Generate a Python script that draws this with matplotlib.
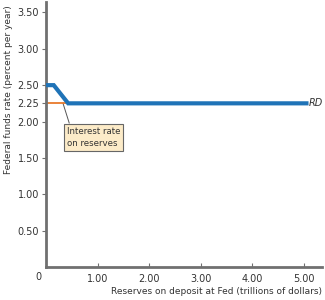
import matplotlib
matplotlib.use('Agg')
import matplotlib.pyplot as plt

# reserve demand curve RD
rd_x = [0.0, 0.15, 0.43, 5.05]
rd_y = [2.50, 2.50, 2.25, 2.25]

# interest rate on reserves
ior_x = [0.0, 0.45]
ior_y = [2.25, 2.25]

x_ticks = [1.0, 2.0, 3.0, 4.0, 5.0]
x_labels = ['1.00', '2.00', '3.00', '4.00', '5.00']
y_ticks = [0.5, 1.0, 1.5, 2.0, 2.25, 2.5, 3.0, 3.5]
y_labels = ['0.50', '1.00', '1.50', '2.00', '2.25', '2.50', '3.00', '3.50']

axis_gray = '#707070'
text_col = '#333333'

plt.rcParams['font.family'] = ['DejaVu Sans']

fig = plt.figure(figsize=(3.25, 3.0), dpi=100, facecolor='white')
ax = fig.add_axes([0.1415, 0.11, 0.849, 0.885])

ax.plot(ior_x, ior_y, color='#e8792b', lw=1.3, zorder=2)
ax.plot(rd_x, rd_y, color='#1f73b7', lw=3, solid_joinstyle='miter', zorder=3)
ax.text(5.1, 2.25, 'RD', fontsize=7, style='italic', color=text_col,
        va='center', ha='left')

# label box with leader line
ax.plot([0.33, 0.45], [2.25, 1.98], color='#555555', lw=0.7, zorder=1)
ax.text(0.40, 1.78, 'Interest rate\non reserves', fontsize=6.2, color=text_col,
        ha='left', va='center', linespacing=1.4,
        bbox=dict(boxstyle='square,pad=0.35', fc='#fcebc8', ec='#666666', lw=0.8))

ax.set_xlim(0, 5.35)
ax.set_ylim(0, 3.65)

for side in ['top', 'right']:
    ax.spines[side].set_visible(False)
for side in ['left', 'bottom']:
    ax.spines[side].set_color(axis_gray)
    ax.spines[side].set_linewidth(2)

ax.set_xticks(x_ticks)
ax.set_xticklabels(x_labels)
ax.set_yticks(y_ticks)
ax.set_yticklabels(y_labels)
ax.tick_params(axis='x', direction='in', length=3, width=0.8, color=axis_gray,
               labelsize=7, labelcolor=text_col, pad=5)
ax.tick_params(axis='y', direction='out', length=3, width=0.8, color=axis_gray,
               labelsize=7, labelcolor=text_col, pad=2)

ax.text(-0.15, -0.14, '0', fontsize=7, color=text_col, ha='center', va='center')

ax.set_xlabel('Reserves on deposit at Fed (trillions of dollars)', fontsize=6.5,
              color=text_col, labelpad=2, loc='right')
ax.set_ylabel('Federal funds rate (percent per year)', fontsize=6.5,
              color=text_col, loc='top')
ax.yaxis.set_label_coords(-0.12, 0.985)

plt.savefig('out.png', dpi=100)
